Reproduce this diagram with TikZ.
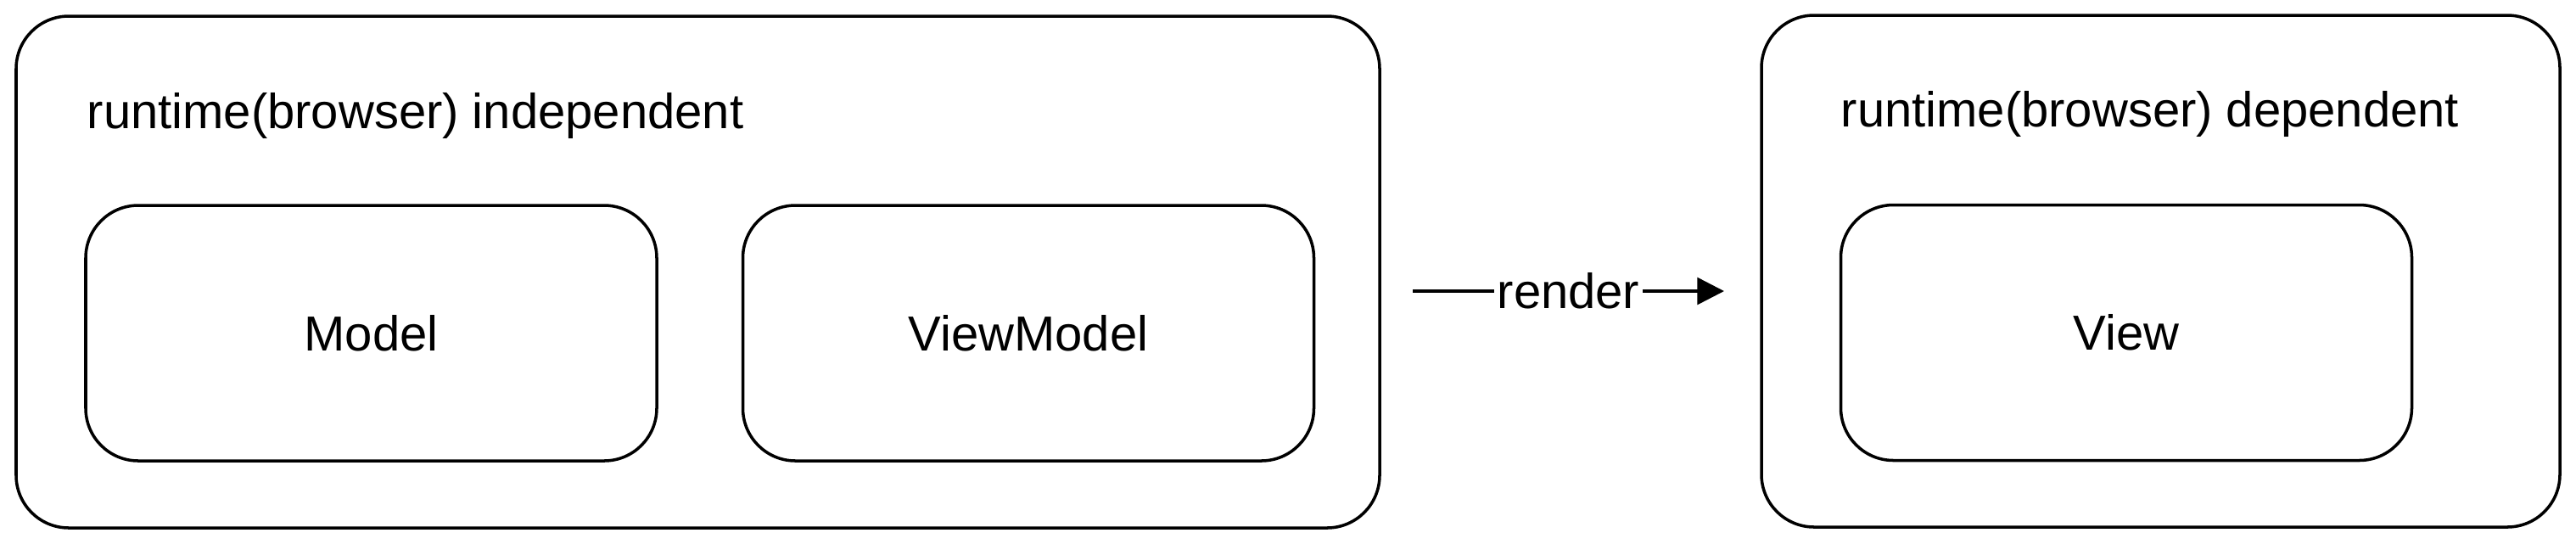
\documentclass[tikz,border=0pt]{standalone}
\usepackage{fontspec}
\setmainfont{Liberation Sans}
\usetikzlibrary{arrows.meta}
\tikzset{
    frame/.style={
        draw,
        rounded corners=0.62cm,
        line width=1pt,
        inner sep=0mm,
        outer sep=0mm,
        font=\fontsize{16.5}{20}\selectfont
    },
    outerbox/.style={frame, minimum height=6.03cm},
    innerbox/.style={frame, minimum width=6.73cm, minimum height=3.01cm},
    boxtitle/.style={anchor=base west, inner sep=0mm, font=\fontsize{16.5}{20}\selectfont},
    flow/.style={line width=1pt, -{Triangle[length=9pt,width=9pt]}}
}

\begin{document}
\begin{tikzpicture}
    \useasboundingbox (0,0) rectangle (30.36,-6.4);
    % left side
    \node[outerbox, minimum width=16.07cm] (indep) at (8.225,-3.205) {};
    \node[boxtitle] (indeptitle) at (1.02,-1.51) {runtime(browser) independent};
    \node[innerbox] (model) at (4.375,-3.925) {Model};
    \node[innerbox] (viewmodel) at (12.12,-3.925) {ViewModel};
    % right side
    \node[outerbox, minimum width=9.41cm] (dep) at (25.465,-3.195) {};
    \node[boxtitle] (deptitle) at (21.69,-1.49) {runtime(browser) dependent};
    \node[innerbox] (view) at (25.06,-3.92) {View};
    % render arrow
    \coordinate (rfrom) at (16.65,-3.43);
    \coordinate (rto) at (20.32,-3.43);
    \draw[flow] (rfrom) -- node[fill=white, inner sep=1pt, font=\fontsize{16.5}{20}\selectfont] (render) {render} (rto);
\end{tikzpicture}
\end{document}
